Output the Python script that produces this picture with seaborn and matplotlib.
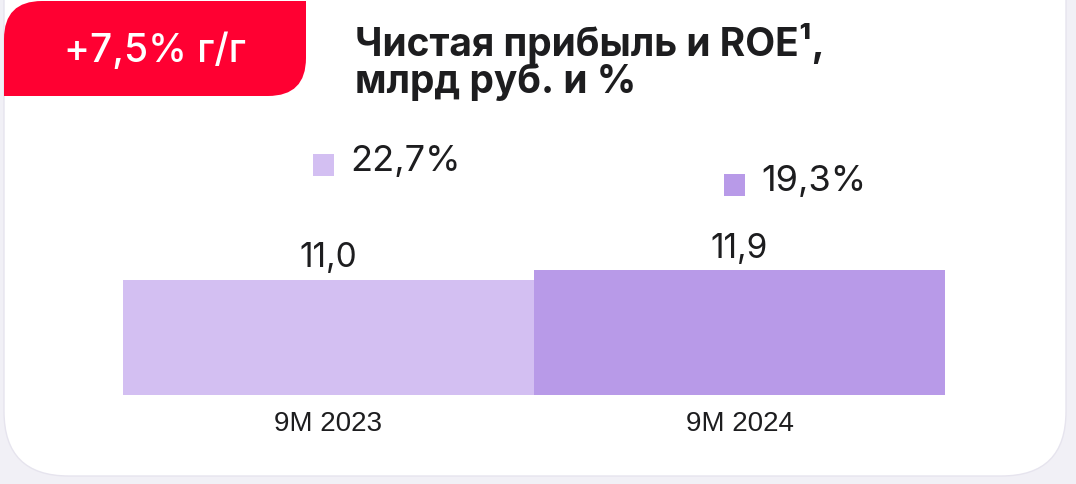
import numpy as np
import pandas as pd
import matplotlib
matplotlib.use("Agg")
import matplotlib.pyplot as plt
from matplotlib.patches import FancyBboxPatch, PathPatch
from matplotlib.path import Path
import seaborn as sns

# data
periods = ["9M 2023", "9M 2024"]
net_profit = [11.0, 11.9]          # млрд руб.
roe = [22.7, 19.3]                 # %
profit_labels = ["11,0", "11,9"]
roe_labels = ["22,7%", "19,3%"]
bar_colors = ["#d3bff2", "#b89ae8"]

sns.set_theme(style="white")
plt.rcParams["font.family"] = ["Inter", "DejaVu Sans"]

W, H = 1076, 484
fig = plt.figure(figsize=(W / 100, H / 100), dpi=100)
fig.patch.set_facecolor("#f1f0f6")


def fx(p): return p / W
def fy(p): return 1 - p / H


# white card
card = FancyBboxPatch((fx(4), fy(476)), fx(1062), 1.2,
                      boxstyle="round,pad=0,rounding_size=0.06",
                      mutation_aspect=W / H, zorder=-10,
                      transform=fig.transFigure, fc="white", ec="#e6e4ee", lw=1)
fig.patches.append(card)

# red badge: rounded top-left and bottom-right corners
x0, x1, yt, yb, r = 4, 306, 1, 96, 38
verts = [(fx(x0), fy(yb)), (fx(x0), fy(yt + r)),
         (fx(x0), fy(yt)), (fx(x0 + r), fy(yt)),
         (fx(x1), fy(yt)), (fx(x1), fy(yb - r)),
         (fx(x1), fy(yb)), (fx(x1 - r), fy(yb)),
         (fx(x0), fy(yb))]
codes = [Path.MOVETO, Path.LINETO, Path.CURVE3, Path.CURVE3, Path.LINETO,
         Path.LINETO, Path.CURVE3, Path.CURVE3, Path.CLOSEPOLY]
badge = PathPatch(Path(verts, codes), transform=fig.transFigure, fc="#ff0032",
                  ec="none", zorder=-5)
fig.patches.append(badge)
fig.text(fx(155), fy(62), "+7,5% г/г", color="white", fontsize=28, fontweight="medium",
         ha="center", va="baseline")

fig.text(fx(355), fy(56), "Чистая прибыль и ROE¹,", color="#1d1d1f",
         fontsize=28, fontweight="bold", ha="left", va="baseline")
fig.text(fx(355), fy(93), "млрд руб. и %", color="#1d1d1f",
         fontsize=28, fontweight="bold", ha="left", va="baseline")

# bars
ax = fig.add_axes([0, 0, 1, 1])
ax.patch.set_alpha(0)
df = pd.DataFrame({"period": periods, "profit": net_profit})
sns.barplot(data=df, x="period", y="profit", hue="period", palette=bar_colors,
            width=1.0, legend=False, ax=ax, saturation=1, linewidth=0)
ppx = 411.0
ax.set_xlim(-0.5 - 123 / ppx, 1.5 + (W - 945) / ppx)
ppy = 10.47
ax.set_ylim(-(H - 395) / ppy, 395 / ppy)
ax.axis("off")

for i, v in enumerate(net_profit):
    ax.annotate(profit_labels[i], (i, v), xytext=(0, 9), textcoords="offset points",
                ha="center", va="baseline", fontsize=24, color="#1d1d1f")
    ax.annotate(periods[i], (i, 0), xytext=(0, -26), textcoords="offset points",
                ha="center", va="baseline", fontsize=20, color="#1d1d1f",
                family="Liberation Sans")

# ROE markers on a second scale
ax2 = ax.twinx()
ax2.set_position([0, 0, 1, 1])
ax2.set_xlim(ax.get_xlim())
ppr = 20 / 3.4
ax2.set_ylim(22.7 - (H - 165) / ppr, 22.7 + 165 / ppr)
ax2.axis("off")
xs = np.arange(len(roe)) - 5 / ppx
sns.scatterplot(x=xs, y=roe, hue=periods, palette=bar_colors, marker="s", s=250,
                linewidth=0, legend=False, ax=ax2)
for i, v in enumerate(roe):
    ax2.annotate(roe_labels[i], (xs[i], v), xytext=(19, -4), textcoords="offset points",
                 ha="left", va="baseline", fontsize=26, color="#1d1d1f")

fig.savefig("out.png", dpi=100)
